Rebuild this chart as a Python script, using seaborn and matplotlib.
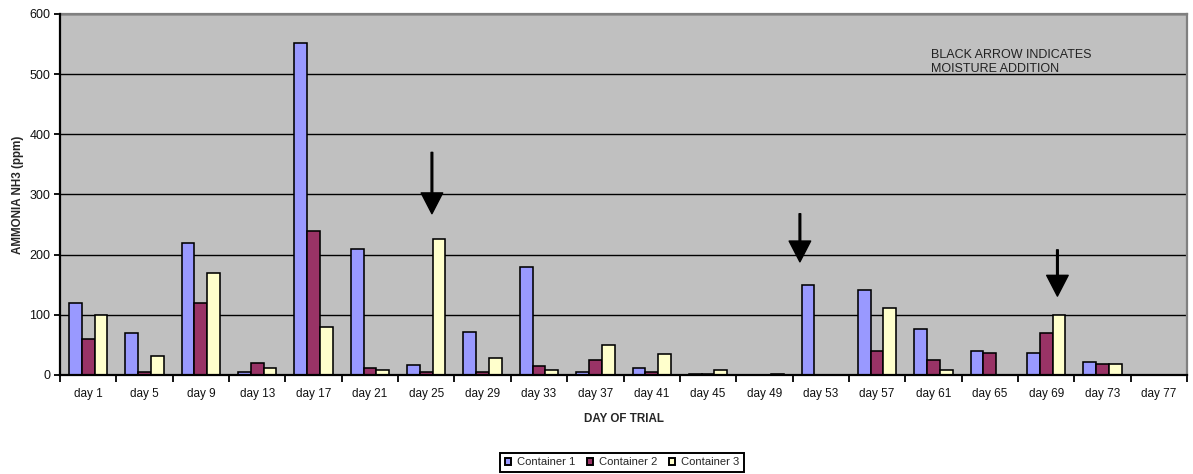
import matplotlib
matplotlib.use("Agg")
import matplotlib.pyplot as plt
import seaborn as sns
import pandas as pd
import numpy as np
from matplotlib.patches import Patch

days = ["day 1", "day 5", "day 9", "day 13", "day 17", "day 21", "day 25", "day 29",
        "day 33", "day 37", "day 41", "day 45", "day 49", "day 53", "day 57", "day 61",
        "day 65", "day 69", "day 73", "day 77"]
container1 = [120, 70, 220, 5, 552, 210, 16, 72, 180, 5, 12, 2, 0, 150, 142, 76, 40, 36, 22, 0]
container2 = [60, 5, 120, 20, 240, 12, 5, 5, 15, 25, 5, 2, 0, 0, 40, 25, 36, 70, 19, 0]
container3 = [100, 32, 170, 12, 80, 9, 226, 29, 9, 49, 35, 9, 2, 0, 112, 9, 0, 100, 19, 0]
series_names = ["Container 1", "Container 2", "Container 3"]
colors = ["#9999FF", "#993366", "#FFFFCC"]
y_ticks = [0, 100, 200, 300, 400, 500, 600]

# moisture-addition arrows: (x position in category units, tail value, tip value)
arrow_x = [6.1, 12.63, 17.2]
arrow_tail = [370, 268, 208]
arrow_tip = [268, 188, 131]
note_text = "BLACK ARROW INDICATES\nMOISTURE ADDITION"

df = pd.DataFrame({
    "day": days * 3,
    "value": container1 + container2 + container3,
    "series": [s for s in series_names for _ in days],
})

sns.set_theme(style="white")
plt.rcParams["font.family"] = ["Liberation Sans", "DejaVu Sans"]

fig = plt.figure(figsize=(11.93, 4.74), dpi=100)
ax = fig.add_axes([0.0503, 0.2089, 0.995 - 0.0503, 0.9705 - 0.2089])
ax.set_facecolor("#C0C0C0")

sns.barplot(data=df, x="day", y="value", hue="series", hue_order=series_names,
            palette=colors, width=0.68, edgecolor="black", linewidth=1.15,
            saturation=1, ax=ax, legend=False, zorder=3)

ax.set_ylim(0, 600)
ax.set_xlim(-0.5, len(days) - 0.5)
ax.set_yticks(y_ticks)
ax.set_yticklabels([str(v) for v in y_ticks], fontsize=9, color="#111111")
ax.yaxis.grid(True, color="black", linewidth=1.0, zorder=0)
ax.set_axisbelow(True)
ax.tick_params(axis="y", which="major", direction="out", length=4, width=1.3,
               color="black", pad=3, left=True)

# x: major ticks between categories, labels on minor ticks at centres
ax.set_xticks(np.arange(-0.5, len(days), 1.0))
ax.set_xticklabels([])
ax.set_xticks(np.arange(len(days)), minor=True)
ax.set_xticklabels(days, minor=True, fontsize=8.5, color="#111111")
ax.tick_params(axis="x", which="major", direction="out", length=5, width=1.3,
               color="black", bottom=True)
ax.tick_params(axis="x", which="minor", length=0, pad=9.5)

for side in ["left", "bottom"]:
    ax.spines[side].set_color("black")
    ax.spines[side].set_linewidth(1.6)
    ax.spines[side].set_zorder(5)
for side in ["top", "right"]:
    ax.spines[side].set_color("#808080")
    ax.spines[side].set_linewidth(1.6)

ax.set_xlabel("DAY OF TRIAL", fontsize=8.4, fontweight="bold", labelpad=9)
ax.set_ylabel("AMMONIA NH3 (ppm)", fontsize=8.4, fontweight="bold", labelpad=4)

for xa, yt, yh in zip(arrow_x, arrow_tail, arrow_tip):
    ax.annotate("", xy=(xa, yh), xytext=(xa, yt),
                arrowprops=dict(facecolor="black", edgecolor="black", width=1.2,
                                headwidth=15.5, headlength=15, shrink=0),
                zorder=6)

ax.text(14.96, 541, note_text, fontsize=9, color="#222222", va="top", ha="left",
        linespacing=1.15, zorder=6)

handles = [Patch(facecolor=c, edgecolor="black", linewidth=1.4) for c in colors]
fig.legend(handles, series_names, loc="center", bbox_to_anchor=(0.5214, 0.0243),
           ncol=3, frameon=True, fancybox=False, edgecolor="black", fontsize=8.1,
           handlelength=0.6, handleheight=0.6, handletextpad=0.5, columnspacing=1.0,
           borderpad=0.4, framealpha=1)
leg = fig.legends[0]
leg.get_frame().set_linewidth(1.4)

fig.savefig("out.png", dpi=100)
